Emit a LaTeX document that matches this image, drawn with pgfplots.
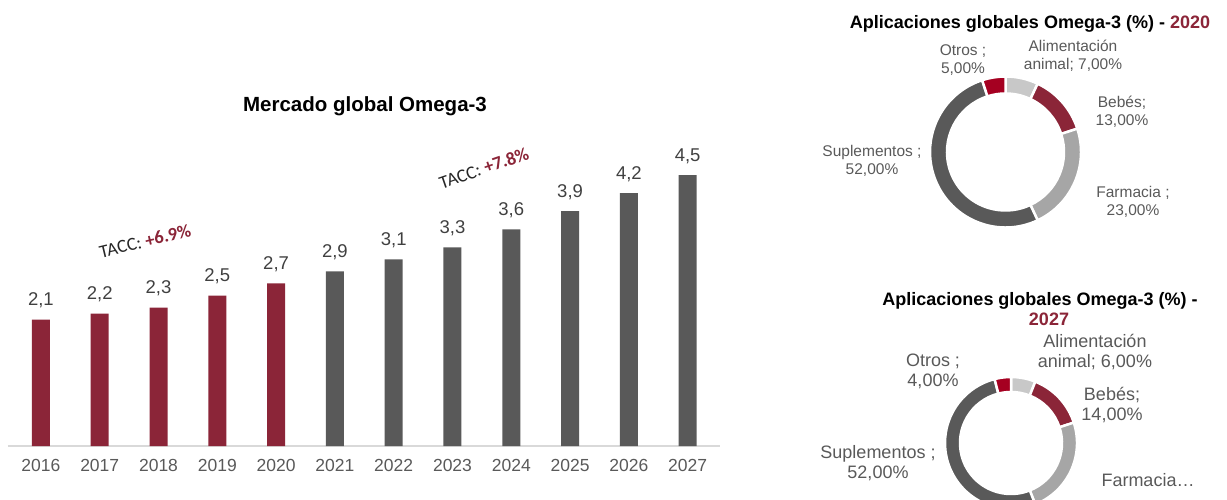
\documentclass[border=0pt]{standalone}
\usepackage{fontspec}
\setmainfont{Liberation Sans}
\newfontfamily\calibri{Carlito}
\usepackage{pgfplots}
\usepackage{pgfplotstable}
\pgfplotsset{compat=1.18}

\definecolor{omred}{HTML}{8B2538}
\definecolor{omgray}{HTML}{595959}
\definecolor{lbl}{HTML}{404040}
\definecolor{axisgray}{HTML}{D9D9D9}
\definecolor{otros}{HTML}{A50021}
\definecolor{alim}{HTML}{C8C8C8}
\definecolor{farm}{HTML}{A6A6A6}

% market size, historic and forecast
\pgfplotstableread{
idx value
0 2.1
1 2.2
2 2.3
3 2.5
4 2.7
}\histdata
\pgfplotstableread{
idx value
5 2.9
6 3.1
7 3.3
8 3.6
9 3.9
10 4.2
11 4.5
}\fcdata

% applications, clockwise from the top
\pgfplotstableread{
pct col
7 alim
13 omred
23 farm
52 omgray
5 otros
}\donutA
\pgfplotstableread{
pct col
6 alim
14 omred
24 farm
52 omgray
4 otros
}\donutB

% #1 table, #2 outer radius, #3 ring width
\newcommand\donut[3]{%
  \pgfplotstablegetrowsof{#1}%
  \pgfmathtruncatemacro\last{\pgfplotsretval-1}%
  \def\cum{0}%
  \pgfplotsforeachungrouped \i in {0,...,\last}{%
    \pgfplotstablegetelem{\i}{pct}\of{#1}\let\pct\pgfplotsretval
    \pgfplotstablegetelem{\i}{col}\of{#1}\let\col\pgfplotsretval
    \pgfmathsetmacro\sa{90-3.6*\cum}%
    \pgfmathsetmacro\ea{90-3.6*(\cum+\pct)}%
    \pgfmathsetmacro\cum{\cum+\pct}%
    \pgfmathsetmacro\inr{#2-#3}%
    \edef\seg{\noexpand\filldraw[fill=\col, draw=white, line width=2.5pt]
      (axis cs:0,0) ++(\sa:#2pt) arc[start angle=\sa, end angle=\ea, radius=#2pt]
      -- ++(\ea+180:#3pt) arc[start angle=\ea, end angle=\sa, radius=\inr pt] -- cycle;}%
    \seg
  }%
}

\begin{document}
\begin{tikzpicture}
\useasboundingbox (0,0) rectangle (1227pt,499pt);
\clip (0,0) rectangle (1227pt,499pt);

\begin{axis}[
  at={(8pt,53pt)}, anchor=south west,
  scale only axis, width=712pt, height=301pt,
  xmin=-0.56, xmax=11.55, ymin=0, ymax=5,
  axis x line*=bottom, axis y line=none,
  x axis line style={draw=axisgray, line width=1.5pt},
  xtick={0,...,11},
  xticklabels={2016,2017,2018,2019,2020,2021,2022,2023,2024,2025,2026,2027},
  major tick length=0pt,
  xticklabel style={font=\fontsize{17.5}{17.5}\selectfont, text=omgray, yshift=-10pt},
  ytick=\empty,
  ybar, bar width=18pt,
  nodes near coords,
  every node near coord/.append style={font=\fontsize{18.5}{18.5}\selectfont, text=lbl, yshift=8pt},
  /pgf/number format/.cd, use comma, fixed, precision=1, fixed zerofill, assume math mode=true,
]
\addplot[fill=omred, draw=none, bar shift=0pt] table[x=idx, y=value]{\histdata};
\addplot[fill=omgray, draw=none, bar shift=0pt] table[x=idx, y=value]{\fcdata};
\end{axis}

\node[font=\bfseries\fontsize{20.5}{20.5}\selectfont, anchor=base] at (365pt,387pt) {Mercado global Omega-3};
\node[rotate=13.5, font=\calibri\fontsize{18.5}{18.5}\selectfont, text=black!85] at (145pt,258pt)
  {TACC: \textcolor{omred}{\bfseries +6.9\%}};
\node[rotate=19, font=\calibri\fontsize{18.5}{18.5}\selectfont, text=black!85] at (484pt,331pt)
  {TACC: \textcolor{omred}{\bfseries +7.8\%}};

% donut 2020
\begin{axis}[
  at={(1005.5pt,347pt)}, anchor=center,
  scale only axis, width=160pt, height=160pt,
  xmin=-1, xmax=1, ymin=-1, ymax=1,
  hide axis, clip=false,
]
\donut{\donutA}{75.5}{17}
\end{axis}
\node[font=\bfseries\fontsize{18}{18}\selectfont, anchor=base] at (1030pt,470pt)
  {Aplicaciones globales Omega-3 (\%) - \textcolor{omred}{2020}};
\begin{scope}[every node/.style={font=\fontsize{15.5}{17.5}\selectfont, text=omgray, align=center}]
\node at (963pt,439pt) {Otros ;\\5,00\%};
\node at (1073pt,443pt) {Alimentación\\animal; 7,00\%};
\node at (1122pt,387pt) {Bebés;\\13,00\%};
\node at (872pt,338pt) {Suplementos ;\\52,00\%};
\node at (1133pt,297pt) {Farmacia ;\\23,00\%};
\end{scope}

% donut 2027
\begin{axis}[
  at={(1011pt,56pt)}, anchor=center,
  scale only axis, width=140pt, height=140pt,
  xmin=-1, xmax=1, ymin=-1, ymax=1,
  hide axis, clip=false,
]
\donut{\donutB}{66}{15}
\end{axis}
\node[font=\bfseries\fontsize{18}{18}\selectfont, anchor=base] at (1040pt,194pt)
  {Aplicaciones globales Omega-3 (\%) -};
\node[font=\bfseries\fontsize{18}{18}\selectfont, anchor=base, text=omred] at (1049pt,174pt) {2027};
\begin{scope}[every node/.style={font=\fontsize{18}{20}\selectfont, text=omgray, align=center}]
\node at (933pt,128pt) {Otros ;\\4,00\%};
\node at (1095pt,147pt) {Alimentación\\animal; 6,00\%};
\node at (1112pt,94pt) {Bebés;\\14,00\%};
\node at (878pt,36pt) {Suplementos ;\\52,00\%};
\node at (1148pt,19pt) {Farmacia…};
\end{scope}
\end{tikzpicture}
\end{document}
